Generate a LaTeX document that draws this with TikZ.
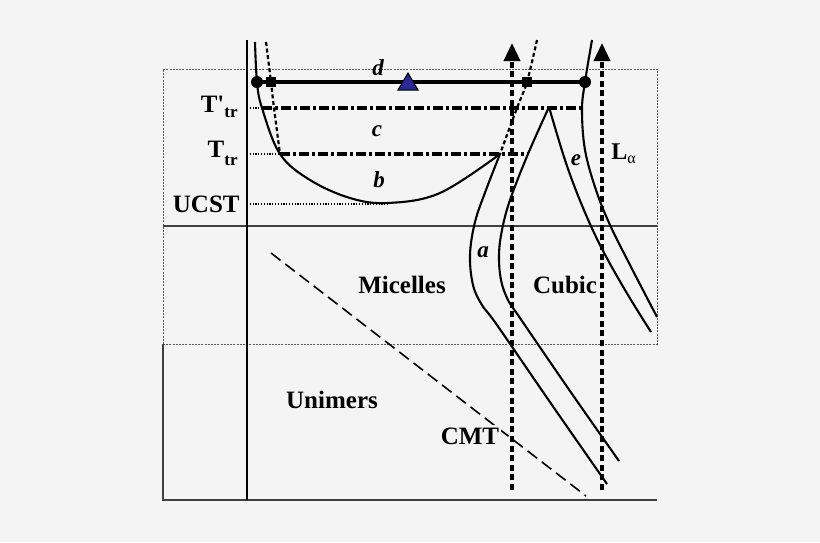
\documentclass[tikz,border=0pt]{standalone}
\usepackage{fontspec}
\setmainfont{Liberation Serif}
\usetikzlibrary{arrows.meta}
\definecolor{bg}{HTML}{F4F4F4}
\definecolor{triBlue}{RGB}{40,40,150}
\tikzstyle{frameSolid} = [draw=black!75,line width=0.6pt]
\tikzstyle{frameDot} = [draw=black!65,line width=0.45pt,dash pattern=on 1pt off 0.6pt]
\tikzstyle{phaseLine} = [line width=1.05pt]
\tikzstyle{spinLine} = [line width=1.1pt,dash pattern=on 2pt off 1.3pt]
\tikzstyle{dotLine} = [line width=0.7pt,dash pattern=on 0.6pt off 0.8pt]
\tikzstyle{dashDot} = [line width=1.7pt,dash pattern=on 5pt off 1.5pt on 1.5pt off 1.5pt]
\tikzstyle{cmtLine} = [line width=0.8pt,dash pattern=on 6pt off 3pt]
\tikzstyle{pathArrow} = [line width=1.7pt,dash pattern=on 3pt off 1.8pt,-{Triangle[length=9pt,width=8pt]}]
\tikzstyle{bigLbl} = [font=\fontsize{12.5}{15}\selectfont\bfseries,anchor=base,inner sep=0pt]
\tikzstyle{letLbl} = [font=\fontsize{11.5}{13}\selectfont\bfseries\itshape,anchor=base,inner sep=0pt]
\tikzstyle{dotMark} = [circle,fill=black,inner sep=0pt,minimum size=6pt]
\tikzstyle{sqMark} = [rectangle,fill=black,inner sep=0pt,minimum size=5pt]

\begin{document}
\begin{tikzpicture}[x=0.5pt,y=-0.5pt]
			\fill[bg] (0,0) rectangle (820,542);
			\useasboundingbox (0,0) rectangle (820,542);
			\draw[frameDot] (163,344) -- (163,69) -- (657,69) -- (657,344) -- cycle;
			\draw[frameSolid] (163,344) -- (163,500) -- (657,500);
			\draw[frameSolid] (163,226) -- (657,226);
			\draw[phaseLine] (247,40) -- (247,500);
			\coordinate (cL) at (257,82);
			\coordinate (cR) at (585,82);
			\coordinate (sL) at (271,82);
			\coordinate (sR) at (527,82);
			\coordinate (pk) at (549,107);
			\coordinate (jn) at (500,154);
			\coordinate (aLb) at (512,490);
			\coordinate (aLt) at (512,43);
			\coordinate (aRb) at (602,490);
			\coordinate (aRt) at (602,43);
			\draw[phaseLine] plot[smooth,tension=0.6] coordinates {(255,42) (cL) (262,108) (280,154) (310,180) (350,198) (388,203) (440,193) (jn)};
			\draw[phaseLine] plot[smooth,tension=0.6] coordinates {(jn) (486,190) (475,222) (470,255) (473,285) (482,305) (497,325) (552,405) (607,484)};
			\draw[phaseLine] plot[smooth,tension=0.6] coordinates {(pk) (528,154) (510,200) (502,230) (499,255) (501,280) (508,300) (520,318) (570,391) (619,461)};
			\draw[phaseLine] plot[smooth,tension=0.6] coordinates {(pk) (565,160) (581,203) (600,245) (625,290) (651,332)};
			\draw[phaseLine] plot[smooth,tension=0.6] coordinates {(592,40) (cR) (582,110) (585,150) (596,190) (610,225) (630,265) (657,317)};
			\draw[spinLine] plot[smooth] coordinates {(266,42) (sL) (274,108) (280,154)};
			\draw[spinLine] plot[smooth] coordinates {(537,40) (sR) (517,108) (jn)};
			\draw[dotLine] (247,108) -- (262,108);
			\draw[dashDot] (262,108) -- (583,108);
			\draw[dotLine] (247,154) -- (280,154);
			\draw[dashDot] (280,154) -- (528,154);
			\draw[dotLine] (247,204) -- (388,204);
			\draw[cmtLine] (271,253) -- (586,496);
			\draw[pathArrow] (aLb) -- (aLt);
			\draw[pathArrow] (aRb) -- (aRt);
			\draw[line width=1.7pt] (cL) -- (cR);
			\node[dotMark] (mL) at (cL) {};
			\node[dotMark] (mR) at (cR) {};
			\node[sqMark] (qL) at (sL) {};
			\node[sqMark] (qR) at (sR) {};
			\draw[fill=triBlue,line width=0.5pt] (398,90) -- (408,73) -- (418,90) -- cycle;
			\node[letLbl] (ld) at (378,75) {d};
			\node[letLbl] (lc) at (377,136) {c};
			\node[letLbl] (lb) at (379,187) {b};
			\node[letLbl] (la) at (483,257) {a};
			\node[letLbl] (le) at (576,165) {e};
			\node[bigLbl,anchor=base west] (lLa) at (611,159) {\fontsize{12}{14}\selectfont L\raisebox{-2pt}{\fontsize{8}{9}\selectfont\mdseries α}};
			\node[bigLbl,anchor=base east] (tTp) at (238,112) {T\textquotesingle\raisebox{-2.5pt}{\fontsize{8.5}{10}\selectfont tr}};
			\node[bigLbl,anchor=base east] (tT) at (238,157) {T\raisebox{-4pt}{\fontsize{8.5}{10}\selectfont tr}};
			\node[bigLbl,anchor=base east] (ucst) at (240,212) {UCST};
			\node[bigLbl] (mic) at (402,293) {Micelles};
			\node[bigLbl] (cub) at (565,293) {Cubic};
			\node[bigLbl] (uni) at (332,408) {Unimers};
			\node[bigLbl,fill=bg,inner sep=1pt] (cmt) at (470,444) {CMT};
		\end{tikzpicture}
\end{document}
